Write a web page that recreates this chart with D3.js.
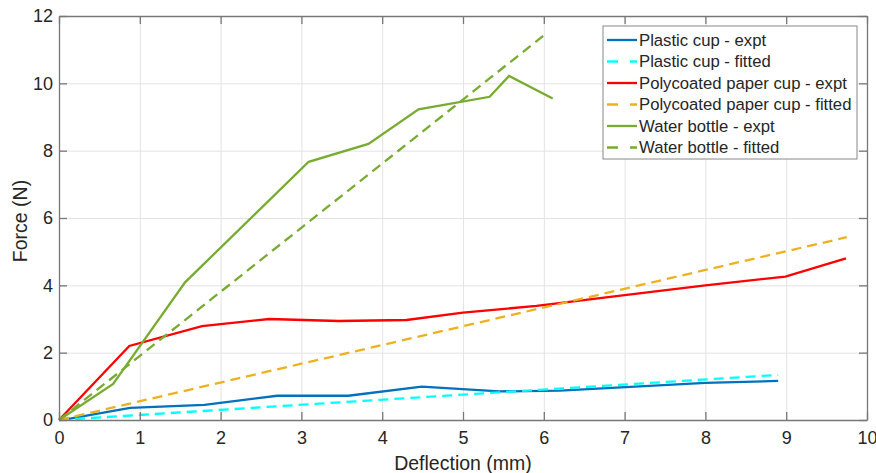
<!DOCTYPE html>
<html>
<head>
<meta charset="utf-8">
<script src="https://cdn.jsdelivr.net/npm/d3@7"></script>
<style>
    body { margin: 0; background: #fff; }
    svg text { font-family: "Liberation Sans", Arial, sans-serif; fill: #262626; }
    .grid-lines line { stroke: #e3e3e3; stroke-width: 1; }
</style>
</head>
<body>
<div id="chart"></div>
<script>
// data
var plasticX = [0, 0.15, 0.88, 1.8, 2.7, 3.58, 4.49, 5.45, 6.2, 8.0, 8.9];
var plasticY = [0, 0.05, 0.36, 0.45, 0.72, 0.72, 0.99, 0.85, 0.87, 1.1, 1.16];
var plasticFitX = [0, 8.9];
var plasticFitY = [0, 1.34];

var paperX = [0, 0.87, 1.77, 2.6, 3.46, 4.3, 5.0, 5.91, 7.0, 8.0, 8.99, 9.74];
var paperY = [0, 2.2, 2.79, 3.0, 2.94, 2.97, 3.19, 3.39, 3.71, 4.0, 4.26, 4.8];
var paperFitX = [0, 9.75];
var paperFitY = [0, 5.43];

var bottleX = [0, 0.67, 1.56, 3.09, 3.83, 4.45, 5.33, 5.57, 6.11];
var bottleY = [0, 1.07, 4.09, 7.67, 8.2, 9.23, 9.6, 10.22, 9.55];
var bottleFitX = [0, 6.03];
var bottleFitY = [0, 11.48];

var xTicks = [0, 1, 2, 3, 4, 5, 6, 7, 8, 9, 10];
var yTicks = [0, 2, 4, 6, 8, 10, 12];

var series = [
    { name: "Plastic cup - expt", x: plasticX, y: plasticY, color: "#0072BD", dash: null },
    { name: "Plastic cup - fitted", x: plasticFitX, y: plasticFitY, color: "#00FFFF", dash: "10,6" },
    { name: "Polycoated paper cup - expt", x: paperX, y: paperY, color: "#FF0000", dash: null },
    { name: "Polycoated paper cup - fitted", x: paperFitX, y: paperFitY, color: "#EDB120", dash: "10,6" },
    { name: "Water bottle - expt", x: bottleX, y: bottleY, color: "#77AC30", dash: null },
    { name: "Water bottle - fitted", x: bottleFitX, y: bottleFitY, color: "#77AC30", dash: "10,6" }
];

var margin = { top: 16, right: 9, bottom: 53, left: 59 }
    , width = 876 - margin.left - margin.right
    , height = 473 - margin.top - margin.bottom;

var xScale = d3.scaleLinear().domain([0, 10]).range([0, width]);
var yScale = d3.scaleLinear().domain([0, 12]).range([height, 0]);

var svg = d3.select("#chart")
    .append("svg")
    .attr("width", 876)
    .attr("height", 473)
    .append("g")
    .attr("transform", "translate(" + margin.left + "," + margin.top + ")");

// grid
svg.append("g")
    .attr("class", "grid-lines")
    .call(d3.axisLeft(yScale).tickValues(yTicks).tickSize(-width).tickFormat(""))
    .call(function (g) { g.select(".domain").remove() });

svg.append("g")
    .attr("class", "grid-lines")
    .attr("transform", "translate(0," + height + ")")
    .call(d3.axisBottom(xScale).tickValues(xTicks).tickSize(-height).tickFormat(""))
    .call(function (g) { g.select(".domain").remove() });

// lines
var line = d3.line()
    .x(function (d) { return xScale(d[0]); })
    .y(function (d) { return yScale(d[1]); });

series.forEach(function (s) {
    var pts = s.x.map(function (v, i) { return [v, s.y[i]]; });
    svg.append("path")
        .datum(pts)
        .attr("fill", "none")
        .attr("stroke", s.color)
        .attr("stroke-width", 2.3)
        .attr("stroke-dasharray", s.dash)
        .attr("d", line);
});

// axes, ticks inward on all sides
function styleAxis(g) {
    g.select(".domain").attr("stroke", "#777").attr("stroke-width", 1.3);
    g.selectAll(".tick line").attr("stroke", "#777").attr("stroke-width", 1.3);
    g.selectAll(".tick text").style("font-size", "18px").attr("fill", "#262626");
}

svg.append("g")
    .attr("transform", "translate(0," + height + ")")
    .call(d3.axisBottom(xScale).tickValues(xTicks).tickSizeInner(-8).tickSizeOuter(0).tickPadding(11).tickFormat(d3.format("d")))
    .call(styleAxis);

svg.append("g")
    .call(d3.axisTop(xScale).tickValues(xTicks).tickSizeInner(-8).tickSizeOuter(0).tickFormat(""))
    .call(styleAxis);

svg.append("g")
    .call(d3.axisLeft(yScale).tickValues(yTicks).tickSizeInner(-8).tickSizeOuter(0).tickPadding(6).tickFormat(d3.format("d")))
    .call(styleAxis);

svg.append("g")
    .attr("transform", "translate(" + width + ",0)")
    .call(d3.axisRight(yScale).tickValues(yTicks).tickSizeInner(-8).tickSizeOuter(0).tickFormat(""))
    .call(styleAxis);

// axis labels
svg.append("text")
    .attr("x", width / 2)
    .attr("y", height + 50)
    .attr("text-anchor", "middle")
    .style("font-size", "19.5px")
    .text("Deflection (mm)");

svg.append("text")
    .attr("transform", "translate(" + (-32) + "," + (height / 2 + 3) + ") rotate(-90)")
    .attr("text-anchor", "middle")
    .style("font-size", "19.5px")
    .text("Force (N)");

// legend
var legend = svg.append("g")
    .attr("transform", "translate(" + (603 - margin.left) + "," + (26 - margin.top) + ")");

legend.append("rect")
    .attr("width", 254)
    .attr("height", 133)
    .attr("fill", "#fff")
    .attr("stroke", "#888")
    .attr("stroke-width", 1);

var rows = legend.selectAll("g.row")
    .data(series)
    .enter()
    .append("g")
    .attr("class", "row")
    .attr("transform", function (d, i) { return "translate(0," + (14 + i * 21.5) + ")"; });

rows.append("line")
    .attr("x1", 4)
    .attr("x2", 34)
    .attr("stroke", function (d) { return d.color; })
    .attr("stroke-width", 2.3)
    .attr("stroke-dasharray", function (d) { return d.dash ? "11,12" : null; });

rows.append("text")
    .attr("x", 36)
    .attr("dy", "0.35em")
    .style("font-size", "16.7px")
    .text(function (d) { return d.name; });
</script>
</body>
</html>
